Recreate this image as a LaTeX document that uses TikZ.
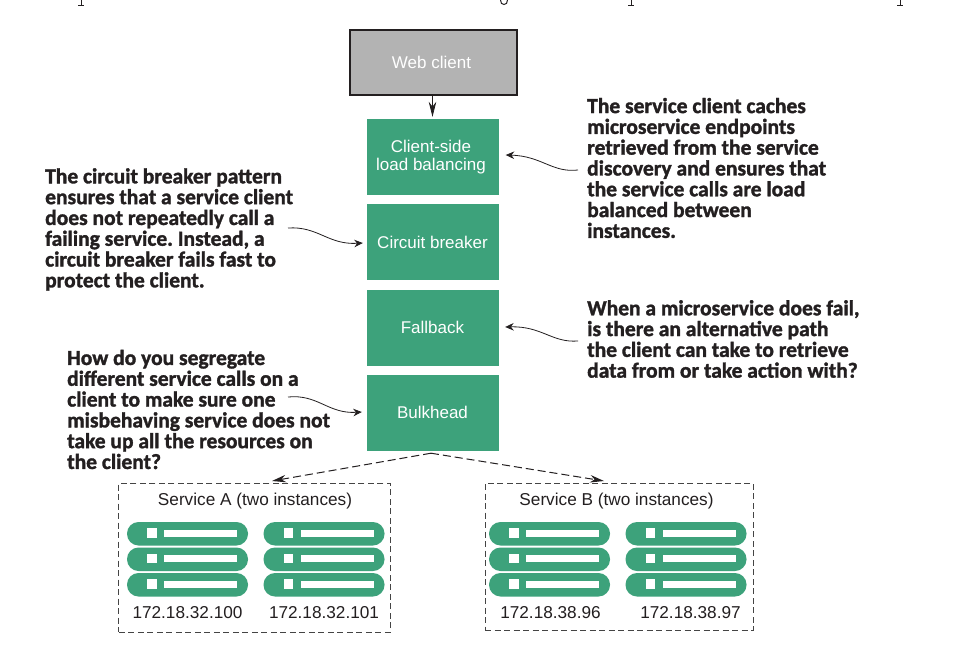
\documentclass[tikz,border=0pt]{standalone}
\usepackage{fontspec}
\setmainfont{Liberation Sans}
\newfontfamily\notefont[FakeBold=1.5]{Carlito Bold}
\usetikzlibrary{arrows.meta}
\definecolor{grn}{HTML}{3DA27B}
\definecolor{gry}{HTML}{B3B3B3}
\definecolor{ink}{HTML}{231F20}
\definecolor{dashc}{HTML}{444444}
\tikzset{
 x=1pt,y=-1pt,
 greenbox/.style={fill=grn,draw=none,minimum width=132pt,text=white,font=\fontsize{17}{18.5}\selectfont,align=center,inner sep=0pt},
 note/.style={font=\notefont\fontsize{21.5}{20.8}\selectfont\frenchspacing,text=ink,align=left,inner sep=0pt},
 label/.style={font=\fontsize{17.2}{19}\selectfont,text=ink,inner sep=0pt},
 pointer/.style={draw=ink,line width=0.8pt,-{Stealth[length=8.5pt,width=7.5pt]}},
 dashlink/.style={draw=ink,line width=1pt,dash pattern=on 8pt off 4pt,-{Stealth[length=14pt,width=7.5pt]}},
 groupbox/.style={draw=dashc,line width=0.9pt,dash pattern=on 6pt off 3.5pt,fill=none,inner sep=0pt},
 pill/.style={fill=grn,rounded corners=11.5pt,draw=none},
}
\newcommand{\serverpill}[2]{%
 \fill[pill] (#1,#2) rectangle ++(121,23.5);
 \fill[white] (#1+20,#2+6) rectangle ++(9.5,9.5);
 \fill[white] (#1+37,#2+7.5) rectangle ++(73,7);
}
\newcommand{\stack}[2]{\serverpill{#1}{#2}\serverpill{#1}{#2+25.5}\serverpill{#1}{#2+51}}
\begin{document}
\begin{tikzpicture}
\useasboundingbox (0,0) rectangle (965,647);
\fill[white] (0,0) rectangle (965,647);
% clipped descenders of the text line above
\foreach \xx in {81,631,900}{\draw[ink,line width=1pt] (\xx,0) -- (\xx,5); \draw[ink,line width=0.6pt] (\xx-3,5.5) -- (\xx+3,5.5);}
\draw[ink,line width=1pt] (500.5,0) .. controls (500,6) and (508,6) .. (507.5,0);

\node[draw=ink,line width=1.2pt,fill=gry,text=white,minimum width=167pt,minimum height=65pt,inner sep=0pt,font=\fontsize{17}{18.5}\selectfont] (web) at (433.5,62.5) {\raisebox{-0.8pt}{Web client}\hspace*{4pt}};
\node[greenbox,minimum height=76pt] (lb) at (432.5,157) {\hspace*{-3pt}Client-side\\\hspace*{-3pt}load balancing};
\node[greenbox,minimum height=76pt] (cb) at (432.5,242) {Circuit breaker};
\node[greenbox,minimum height=76pt] (fb) at (432.5,327.5) {Fallback};
\node[greenbox,minimum height=76pt] (bh) at (432.5,413) {\raisebox{1.5pt}{Bulkhead}};
\draw[draw=ink,line width=0.8pt,-{Stealth[length=15pt,width=7.5pt]},shorten >=2pt] (web.south -| lb.north) -- (lb.north);

\node[note,anchor=west] (n1) at (587,168) {The service client caches\\microservice endpoints\\retrieved from the service\\discovery and ensures that\\the service calls are load\\balanced between\\instances.};
\node[note,anchor=west] (n2) at (45,229.5) {The circuit breaker pattern\\ensures that a service client\\does not repeatedly call a\\failing service. Instead, a\\circuit breaker fails fast to\\protect the client.};
\node[note,anchor=west] (n3) at (587,339) {When a microservice does fail,\\is there an alternative path\\the client can take to retrieve\\data from or take action with?};
\node[note,anchor=west] (n4) at (67,409.5) {How do you segregate\\different service calls on a\\client to make sure one\\misbehaving service does not\\take up all the resources on\\the client?};

\coordinate (n1s) at (578,170);
\coordinate (n2s) at (288,228);
\coordinate (n3s) at (578,341);
\coordinate (n4s) at (288,397);
\draw[pointer] (n1s) .. controls (552,173) and (542,156) .. ([xshift=7pt,yshift=2pt]lb.east);
\draw[pointer] (n2s) .. controls (318,226) and (328,245) .. ([xshift=-3.5pt,yshift=-1pt]cb.west);
\draw[pointer] (n3s) .. controls (552,343) and (542,326) .. ([xshift=6.5pt,yshift=0.5pt]fb.east);
\draw[pointer] (n4s) .. controls (318,394) and (328,414) .. ([xshift=-4.5pt,yshift=1pt]bh.west);

\node[groupbox,minimum width=271.5pt,minimum height=149pt] (ga) at (254.5,557.5) {};
\node[groupbox,minimum width=268pt,minimum height=147pt] (gb) at (619,556.5) {};
\coordinate (fan) at ([xshift=-1.5pt,yshift=-2pt]bh.south);
\coordinate (ta) at (272,481);
\coordinate (tb) at (604,481);
\draw[dashlink] (fan) -- (ta);
\draw[dashlink] (fan) -- (tb);

\node[label] (la) at (255,501) {Service A (two instances)};
\node[label] (lb2) at (616.5,501) {Service B (two instances)};
\stack{127}{522}\stack{263.5}{522}\stack{489}{522}\stack{625.5}{522}
\node[label] (a1) at (187.5,613) {172.18.32.100};
\node[label] (a2) at (324,613) {172.18.32.101};
\node[label] (b1) at (550.5,613) {172.18.38.96};
\node[label] (b2) at (690.5,613) {172.18.38.97};
\end{tikzpicture}
\end{document}
